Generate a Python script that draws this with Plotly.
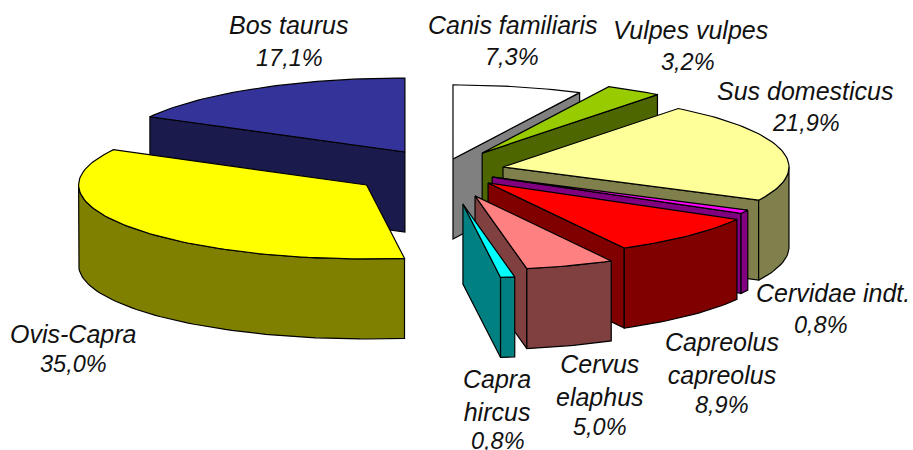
import numpy as np
import plotly.graph_objects as go

# --- data (clockwise from 12 o'clock) ---
categories = ["Canis familiaris", "Vulpes vulpes", "Sus domesticus", "Cervidae indt.",
              "Capreolus<br>capreolus", "Cervus<br>elaphus", "Capra<br>hircus",
              "Ovis-Capra", "Bos taurus"]
values = [7.3, 3.2, 21.9, 0.8, 8.9, 5.0, 0.8, 35.0, 17.1]

# --- styles ---
top_colors = ["#FFFFFF", "#99CC00", "#FFFF99", "#FF00FF", "#FF0000", "#FF8080", "#00FFFF", "#FFFF00", "#333399"]
side_colors = ["#808080", "#4D6600", "#80804D", "#800080", "#800000", "#804040", "#008080", "#808000", "#1A1A4D"]
pull_x = [0.046, 0.212, 0.19, 0.167, 0.19, 0.263, 0.289, 0.354, 0.308]
pull_y = [0.153, 0.27, 0.183, 0.2, 0.245, 0.371, 0.466, 0.357, 0.283]
radius_x = [286, 286, 286, 286, 286, 286, 286, 288, 290]
name_x = [512, 690, 805, 833, 722, 600, 497, 73, 289]
name_y = [25, 30, 91, 293, 358, 380, 395, 334, 25]
pct_x = [512, 688, 806, 821, 722, 600, 498, 73, 289]
pct_y = [57, 62, 123, 325, 405, 427, 441, 364, 58]
draw_order = [8, 7, 0, 1, 2, 3, 4, 5, 6]

CX, CY, RX, RY, DEPTH = 450, 170, 286, 74, 80
FONT = "Liberation Sans"
EDGE = "#000000"

# --- geometry derived from the values ---
edges = np.concatenate([[0], np.cumsum(values)]) / np.sum(values) * 360.0


def arc(a0, a1):
    n = max(2, int(abs(a1 - a0) / 1.5) + 2)
    return np.radians(np.linspace(a0, a1, n))


fig = go.Figure()


def poly(xs, ys, color):
    fig.add_trace(go.Scatter(x=list(xs) + [xs[0]], y=list(ys) + [ys[0]], mode="lines", fill="toself",
                             fillcolor=color, line=dict(color=EDGE, width=1.2),
                             hoverinfo="skip", showlegend=False))


for i in draw_order:
    a0, a1 = edges[i], edges[i + 1]
    m = np.radians((a0 + a1) / 2)
    ax = CX + pull_x[i] * RX * np.sin(m)
    ay = CY - pull_y[i] * RY * np.cos(m)
    r0, r1 = np.radians(a0), np.radians(a1)
    rx = radius_x[i]

    def px(t):
        return ax + rx * np.sin(t)

    def py(t):
        return ay - RY * np.cos(t)

    # radial cut face that looks toward the viewer
    for ang, visible in ((r1, 0 < a1 < 180), (r0, 180 < a0 < 360)):
        if visible:
            xs = [ax, px(ang), px(ang), ax]
            ys = [ay, py(ang), py(ang) + DEPTH, ay + DEPTH]
            poly(xs, ys, side_colors[i])
    # outer wall
    w0, w1 = max(a0, 90), min(a1, 270)
    if w1 > w0:
        t = arc(w0, w1)
        xs = np.concatenate([px(t), px(t)[::-1]])
        ys = np.concatenate([py(t), (py(t) + DEPTH)[::-1]])
        poly(list(xs), list(ys), side_colors[i])
    # top face
    t = arc(a0, a1)
    poly([ax] + list(px(t)), [ay] + list(py(t)), top_colors[i])

for name, val, nx, ny, qx, qy in zip(categories, values, name_x, name_y, pct_x, pct_y):
    pct = f"{val:.1f}%".replace(".", ",")
    name_txt = "<br>".join(f"<i>{line}</i>" for line in name.split("<br>"))
    fig.add_annotation(x=nx, y=ny, text=name_txt, showarrow=False, xanchor="center", yanchor="middle",
                       align="center", font=dict(family=FONT, size=25, color="#111111"))
    fig.add_annotation(x=qx, y=qy, text=f"<i>{pct}</i>", showarrow=False, xanchor="center", yanchor="middle",
                       align="center", font=dict(family=FONT, size=23.5, color="#111111"))

fig.update_layout(width=913, height=450, margin=dict(l=0, r=0, t=0, b=0),
                  paper_bgcolor="white", plot_bgcolor="white", showlegend=False,
                  xaxis=dict(range=[0, 913], visible=False, fixedrange=True),
                  yaxis=dict(range=[450, 0], visible=False, fixedrange=True))
fig.write_html("out.html", config={"displayModeBar": False},
               post_script="document.body.style.margin='0';document.documentElement.style.overflow='hidden';")
